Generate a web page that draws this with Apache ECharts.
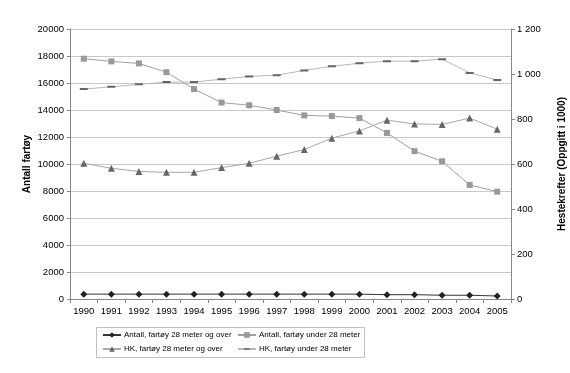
<!DOCTYPE html>
<html><head><meta charset="utf-8">
<script src="https://cdn.jsdelivr.net/npm/echarts@6/dist/echarts.min.js"></script>
<style>html,body{margin:0;padding:0;background:#fff}#c{width:570px;height:373px}</style>
</head><body><div id="c"></div>
<script>
const years = ['1990','1991','1992','1993','1994','1995','1996','1997','1998','1999','2000','2001','2002','2003','2004','2005'];
const antallOver28 = [360,360,360,360,360,360,360,360,360,360,360,320,320,280,280,220];
const antallUnder28 = [17800,17600,17450,16800,15550,14550,14350,14000,13600,13550,13400,12300,10950,10200,8450,7950];
const hkOver28 = [603,581,567,563,563,584,603,635,664,715,747,795,778,776,804,755];
const hkUnder28 = [933,943,954,964,964,977,989,995,1016,1034,1048,1057,1057,1066,1005,973];
const leftTicks = {min:0, max:20000, interval:2000};
const rightTicks = {min:0, max:1200, interval:200};
const names = ['Antall, fartøy 28 meter og over','Antall, fartøy under 28 meter','HK, fartøy 28 meter og over','HK, fartøy under 28 meter'];

const font = 'Liberation Sans, Arial, sans-serif';
const dashSymbol = 'path://M0,0L0.01,0M8,8L8.01,8M0,3H8V5H0Z';
const chart = echarts.init(document.getElementById('c'), null, {renderer:'canvas'});
chart.setOption({
  animation:false,
  backgroundColor:'#fff',
  grid:{left:70,right:59,top:29,bottom:74,outerBoundsMode:'none',containLabel:false},
  xAxis:{type:'category',data:years,boundaryGap:true,
    axisLine:{lineStyle:{color:'#888',width:1}},
    axisTick:{show:true,length:4,lineStyle:{color:'#888'}},
    axisLabel:{color:'#000',fontSize:9.5,fontFamily:font,margin:7,interval:0}},
  yAxis:[
    {type:'value',min:leftTicks.min,max:leftTicks.max,interval:leftTicks.interval,
     name:'Antall fartøy',nameLocation:'middle',nameGap:38,nameMoveOverlap:false,
     nameTextStyle:{fontWeight:'bold',fontSize:10,fontFamily:font,color:'#000'},
     axisLine:{show:true,lineStyle:{color:'#888'}},
     axisTick:{show:true,length:3,lineStyle:{color:'#888'}},
     axisLabel:{color:'#000',fontSize:9.5,fontFamily:font,margin:6,formatter:v=>String(v)},
     splitLine:{lineStyle:{color:'#c8c8c8',width:1}}},
    {type:'value',min:rightTicks.min,max:rightTicks.max,interval:rightTicks.interval,position:'right',
     name:'Hestekrefter (Oppgitt i 1000)',nameLocation:'middle',nameGap:46,nameMoveOverlap:false,
     nameTextStyle:{fontWeight:'bold',fontSize:10,fontFamily:font,color:'#000'},
     axisLine:{show:true,lineStyle:{color:'#888'}},
     axisTick:{show:true,length:4,lineStyle:{color:'#888'}},
     axisLabel:{color:'#000',fontSize:9.5,fontFamily:font,margin:6,
       formatter:v=>String(v).replace(/\B(?=(\d{3})+(?!\d))/g,' ')},
     splitLine:{show:false}}
  ],
  legend:[
    {data:[names[0],names[2]],orient:'vertical',left:102,top:331,itemWidth:18,itemHeight:7,itemGap:6,
     textStyle:{fontSize:8,fontFamily:font,color:'#000',padding:[0,0,0,-2]},padding:0},
    {data:[names[1],names[3]],orient:'vertical',left:237,top:331,itemWidth:18,itemHeight:7,itemGap:6,
     textStyle:{fontSize:8,fontFamily:font,color:'#000',padding:[0,0,0,-2]},padding:0}
  ],
  graphic:[{type:'rect',shape:{x:96.5,y:327.5,width:268,height:30},style:{fill:'none',stroke:'#c0c0c0',lineWidth:1},silent:true}],
  series:[
    {name:names[0],type:'line',yAxisIndex:0,data:antallOver28,symbol:'diamond',symbolSize:7,showAllSymbol:true,
     itemStyle:{color:'#222'},lineStyle:{color:'#333',width:1}},
    {name:names[1],type:'line',yAxisIndex:0,data:antallUnder28,symbol:'rect',symbolSize:6,showAllSymbol:true,
     itemStyle:{color:'#999'},lineStyle:{color:'#a0a0a0',width:1}},
    {name:names[2],type:'line',yAxisIndex:1,data:hkOver28,symbol:'triangle',symbolSize:7,showAllSymbol:true,
     itemStyle:{color:'#666'},lineStyle:{color:'#a8a8a8',width:1}},
    {name:names[3],type:'line',yAxisIndex:1,data:hkUnder28,symbol:dashSymbol,symbolSize:8,showAllSymbol:true,
     itemStyle:{color:'#666'},lineStyle:{color:'#b8b8b8',width:1}}
  ]
});
</script></body></html>
